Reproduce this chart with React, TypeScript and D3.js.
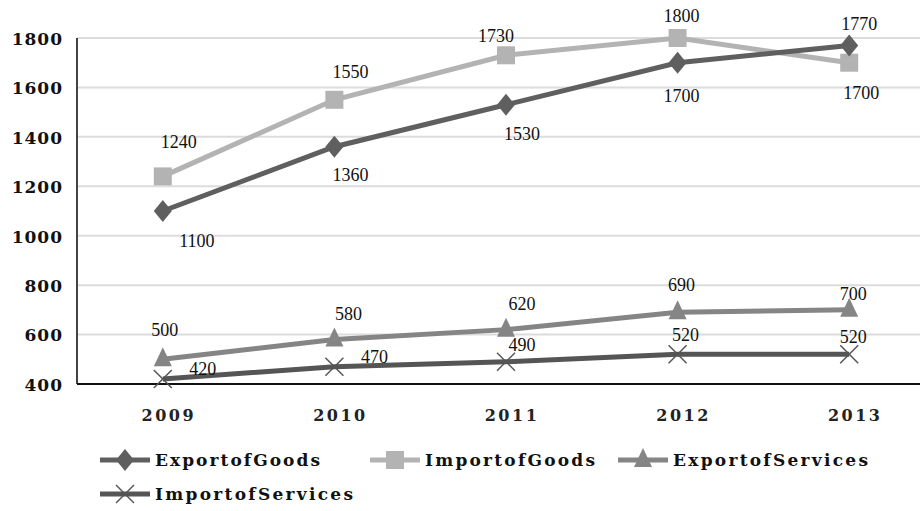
import React from 'react';
import * as d3 from 'd3';

const years = ['2009', '2010', '2011', '2012', '2013'];
const exportGoods = [1100, 1360, 1530, 1700, 1770];
const importGoods = [1240, 1550, 1730, 1800, 1700];
const exportServices = [500, 580, 620, 690, 700];
const importServices = [420, 470, 490, 520, 520];
const yTicks = [400, 600, 800, 1000, 1200, 1400, 1600, 1800];

// label offsets per point [dx, dy] relative to the marker
const egOffsets = [[34, 30], [16, 28], [16, 29], [4, 33], [10, -22]];
const igOffsets = [[16, -35], [16, -28], [-10, -20], [4, -22], [12, 30]];
const esOffsets = [[2, -30], [14, -26], [16, -26], [4, -28], [4, -16]];
const isOffsets = [[40, -10], [40, -10], [16, -17], [8, -20], [4, -18]];

type Series = {
  name: string;
  values: number[];
  color: string;
  marker: 'diamond' | 'square' | 'triangle' | 'cross';
  offsets: number[][];
};

const series: Series[] = [
  { name: 'ExportofServices', values: exportServices, color: '#858585', marker: 'triangle', offsets: esOffsets },
  { name: 'ImportofServices', values: importServices, color: '#555555', marker: 'cross', offsets: isOffsets },
  { name: 'ImportofGoods', values: importGoods, color: '#b3b3b3', marker: 'square', offsets: igOffsets },
  { name: 'ExportofGoods', values: exportGoods, color: '#5f5f5f', marker: 'diamond', offsets: egOffsets },
];

const W = 920;
const H = 511;
const left = 77;
const top = 38;
const bottom = 384;

const x = d3.scaleBand<string>().domain(years).range([left, 935]);
const y = d3.scaleLinear().domain([400, 1800]).range([bottom, top]);

const Marker: React.FC<{ kind: Series['marker']; cx: number; cy: number; color: string }> = ({ kind, cx, cy, color }) => {
  if (kind === 'diamond') {
    return <path d={`M${cx},${cy - 11} L${cx + 9},${cy} L${cx},${cy + 11} L${cx - 9},${cy} Z`} fill={color} />;
  }
  if (kind === 'square') {
    return <rect x={cx - 9} y={cy - 9} width={18} height={18} fill={color} />;
  }
  if (kind === 'triangle') {
    return <path d={`M${cx},${cy - 12} L${cx + 9},${cy + 7} L${cx - 9},${cy + 7} Z`} fill={color} />;
  }
  return (
    <g stroke={color} strokeWidth={1.5}>
      <line x1={cx - 9} y1={cy - 9} x2={cx + 9} y2={cy + 9} />
      <line x1={cx - 9} y1={cy + 9} x2={cx + 9} y2={cy - 9} />
    </g>
  );
};

const legendItems = [
  { s: series[3], x: 100, y: 460, tl: 165 },
  { s: series[2], x: 370, y: 460, tl: 170 },
  { s: series[0], x: 618, y: 460, tl: 195 },
  { s: series[1], x: 100, y: 494, tl: 198 },
];

export default function App() {
  const cx = (yr: string) => (x(yr) ?? 0) + x.bandwidth() / 2;
  const line = d3.line<number>().x((_, i) => cx(years[i])).y(d => y(d));

  return (
    <svg width={W} height={H} style={{ position: 'absolute', left: 0, top: 0, background: '#fff' }}>
      {yTicks.map(t => (
        <line key={t} x1={left} x2={W} y1={y(t)} y2={y(t)} stroke="#dcdcdc" strokeWidth={2} />
      ))}
      <line x1={left} x2={left} y1={top} y2={bottom} stroke="#444" strokeWidth={2} />
      <line x1={left} x2={W} y1={bottom} y2={bottom} stroke="#111" strokeWidth={2} />
      {yTicks.map(t => (
        <text key={t} x={63} y={y(t)} dy="0.4em" textAnchor="end"
          fontFamily="DejaVu Serif" fontWeight="bold" fontSize={17} letterSpacing={1} fill="#111">
          {t}
        </text>
      ))}
      {years.map(yr => (
        <text key={yr} x={cx(yr) + 6} y={421} textAnchor="middle"
          fontFamily="DejaVu Serif" fontWeight="bold" fontSize={16} letterSpacing={2.5} fill="#222">
          {yr}
        </text>
      ))}
      {series.map(s => (
        <g key={s.name}>
          <path d={line(s.values) ?? ''} fill="none" stroke={s.color} strokeWidth={5} />
          {s.values.map((v, i) => (
            <Marker key={i} kind={s.marker} cx={cx(years[i])} cy={y(v)} color={s.color} />
          ))}
        </g>
      ))}
      {series.map(s => s.values.map((v, i) => (
        <text key={s.name + i} x={cx(years[i]) + s.offsets[i][0]} y={y(v) + s.offsets[i][1]} dy="0.35em"
          textAnchor="middle" fontFamily="Liberation Serif" fontSize={18} fill="#111">
          {v}
        </text>
      )))}
      {legendItems.map(({ s, x: lx, y: ly, tl }) => (
        <g key={s.name}>
          <line x1={lx} x2={lx + 50} y1={ly} y2={ly} stroke={s.color} strokeWidth={5} />
          <Marker kind={s.marker} cx={lx + 25} cy={ly} color={s.color} />
          <text x={lx + 55} y={ly} dy="0.35em" fontFamily="DejaVu Serif" fontWeight="bold" fontSize={17}
            textLength={tl} lengthAdjust="spacing" fill="#111">
            {s.name}
          </text>
        </g>
      ))}
    </svg>
  );
}
